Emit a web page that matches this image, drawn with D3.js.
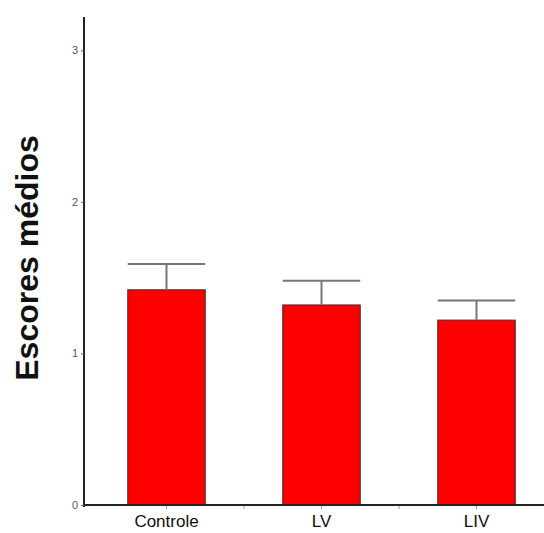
<!DOCTYPE html>
<html>
<head>
<meta charset="utf-8">
<script src="https://cdn.jsdelivr.net/npm/d3@7"></script>
<style>
  body { margin: 0; background: #fff; }
  svg { display: block; }
</style>
</head>
<body>
<div id="container"></div>
<script>
/* DATA */
const groups = ["Controle", "LV", "LIV"];
const means = [1.42, 1.32, 1.22];
const upperErr = [1.59, 1.48, 1.35];
const yTicks = [0, 1, 2, 3];

const width = 544, height = 533;

const svg = d3.select("#container").append("svg")
    .attr("width", width)
    .attr("height", height);

const xScale = d3.scaleBand()
    .domain(groups)
    .range([89, 554])
    .paddingInner(0.5)
    .paddingOuter(0.25);

const yScale = d3.scaleLinear()
    .domain([0, 3.22])
    .range([505, 17]);

// bars
svg.selectAll("rect.bar")
  .data(groups)
  .join("rect")
    .attr("class", "bar")
    .attr("x", d => xScale(d))
    .attr("y", (d, i) => yScale(means[i]))
    .attr("width", xScale.bandwidth())
    .attr("height", (d, i) => yScale(0) - yScale(means[i]))
    .attr("fill", "#ff0000")
    .attr("stroke", "#333")
    .attr("stroke-width", 1);

// error bars (upper only)
const err = svg.selectAll("g.err")
  .data(groups)
  .join("g")
    .attr("class", "err")
    .attr("stroke", "#777")
    .attr("stroke-width", 2);

err.append("line")
    .attr("x1", d => xScale(d) + xScale.bandwidth() / 2)
    .attr("x2", d => xScale(d) + xScale.bandwidth() / 2)
    .attr("y1", (d, i) => yScale(means[i]))
    .attr("y2", (d, i) => yScale(upperErr[i]));

err.append("line")
    .attr("x1", d => xScale(d))
    .attr("x2", d => xScale(d) + xScale.bandwidth())
    .attr("y1", (d, i) => yScale(upperErr[i]))
    .attr("y2", (d, i) => yScale(upperErr[i]));

// y axis
const yAxis = svg.append("g")
    .attr("transform", "translate(84,0)")
    .call(d3.axisLeft(yScale).tickValues(yTicks).tickSize(3).tickSizeOuter(0).tickFormat(d3.format("d")));
yAxis.select(".domain").attr("d", "M0,17V507").attr("stroke", "#222").attr("stroke-width", 2);
yAxis.selectAll(".tick line").attr("stroke", "#666");
yAxis.selectAll("text")
    .style("font-family", "Liberation Sans, Arial, sans-serif")
    .style("font-size", "11px")
    .attr("fill", "#555");

// x axis
const xAxis = svg.append("g")
    .attr("transform", "translate(0,505)")
    .call(d3.axisBottom(xScale).tickSize(0).tickSizeOuter(0).tickPadding(10));
xAxis.select(".domain").attr("d", "M84,0H544").attr("stroke", "#222").attr("stroke-width", 2);
xAxis.selectAll("text")
    .style("font-family", "Liberation Sans, Arial, sans-serif")
    .style("font-size", "17px")
    .attr("fill", "#111");

// small ticks under the baseline, at bar centres and between bars
const tickPos = [];
groups.forEach((g, i) => {
  tickPos.push(xScale(g) + xScale.bandwidth() / 2);
  if (i < groups.length - 1) tickPos.push(xScale(g) + xScale.bandwidth() / 2 + xScale.step() / 2);
});
svg.selectAll("line.xt")
  .data(tickPos)
  .join("line")
    .attr("class", "xt")
    .attr("x1", d => d).attr("x2", d => d)
    .attr("y1", 506).attr("y2", 509)
    .attr("stroke", "#999");

// y label
svg.append("text")
    .attr("transform", "translate(38,258) rotate(-90)")
    .attr("text-anchor", "middle")
    .style("font-family", "Liberation Sans, Arial, sans-serif")
    .style("font-size", "32px")
    .style("font-weight", "bold")
    .attr("fill", "#111")
    .text("Escores médios");
</script>
</body>
</html>
